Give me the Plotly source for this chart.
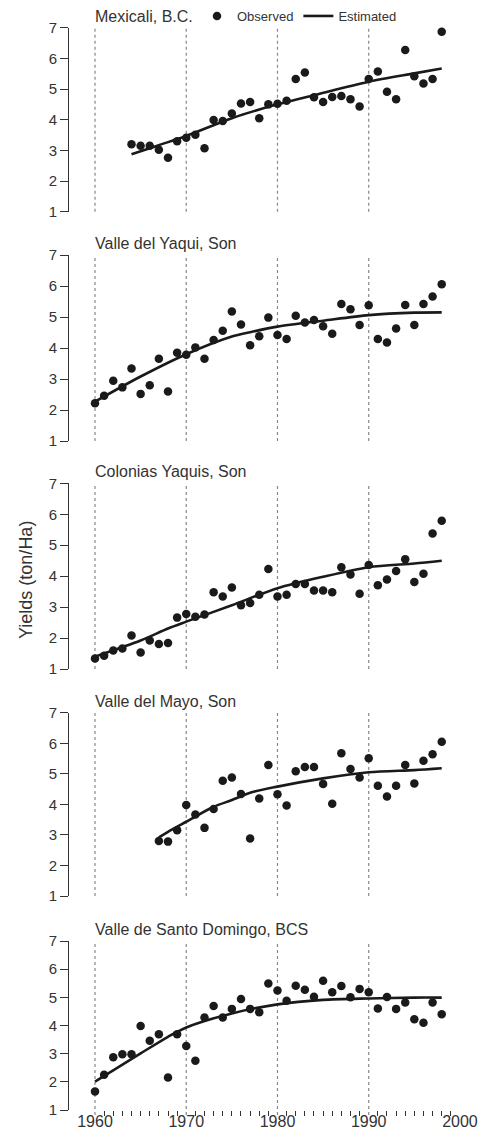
import plotly.graph_objects as go
from plotly.subplots import make_subplots

# ---------------- data ----------------
DECADES = [1960, 1970, 1980, 1990]
X_TICKS = [1960, 1970, 1980, 1990, 2000]
X_TICK_LABELS = ["1960", "1970", "1980", "1990", "2000"]
MINOR_YEARS = [y for y in range(1961, 2000) if y not in (1970, 1980, 1990)]
Y_TICKS = [1, 2, 3, 4, 5, 6, 7]

REGIONS = ["Mexicali, B.C.", "Valle del Yaqui, Son", "Colonias Yaquis, Son",
           "Valle del Mayo, Son", "Valle de Santo Domingo, BCS"]

mexicali_years = list(range(1964, 1999))
mexicali_obs = [3.20, 3.15, 3.15, 3.02, 2.76, 3.30, 3.41, 3.51, 3.07, 3.99,
                3.96, 4.20, 4.53, 4.58, 4.05, 4.50, 4.52, 4.62, 5.33, 5.54,
                4.73, 4.58, 4.74, 4.77, 4.67, 4.43, 5.33, 5.57, 4.91, 4.67,
                6.27, 5.42, 5.18, 5.33, 6.87]
mexicali_est_years = [1964, 1967, 1970, 1975, 1980, 1984, 1990, 1995, 1998]
mexicali_est = [2.87, 3.17, 3.47, 4.05, 4.50, 4.80, 5.24, 5.51, 5.67]

yaqui_years = list(range(1960, 1999))
yaqui_obs = [2.22, 2.46, 2.94, 2.73, 3.34, 2.52, 2.80, 3.65, 2.60, 3.85,
             3.78, 4.02, 3.65, 4.26, 4.56, 5.18, 4.76, 4.09, 4.38, 4.98,
             4.42, 4.29, 5.04, 4.82, 4.90, 4.70, 4.46, 5.42, 5.25, 4.74,
             5.38, 4.29, 4.18, 4.63, 5.39, 4.74, 5.42, 5.66, 6.06]
yaqui_est_years = [1960, 1965, 1970, 1975, 1977, 1980, 1985, 1990, 1995, 1998]
yaqui_est = [2.27, 3.08, 3.80, 4.37, 4.51, 4.69, 4.88, 5.06, 5.14, 5.15]

colonias_years = list(range(1960, 1999))
colonias_obs = [1.34, 1.43, 1.60, 1.66, 2.08, 1.53, 1.92, 1.81, 1.84, 2.66,
                2.78, 2.69, 2.76, 3.48, 3.34, 3.63, 3.06, 3.13, 3.40, 4.23,
                3.34, 3.40, 3.75, 3.75, 3.54, 3.54, 3.48, 4.29, 4.05, 3.43,
                4.36, 3.71, 3.89, 4.17, 4.55, 3.81, 4.08, 5.38, 5.79]
colonias_est_years = [1960, 1965, 1968, 1970, 1975, 1980, 1985, 1990, 1995, 1998]
colonias_est = [1.40, 1.92, 2.31, 2.53, 3.06, 3.61, 3.98, 4.29, 4.41, 4.50]

mayo_years = list(range(1967, 1999))
mayo_obs = [2.80, 2.78, 3.15, 3.98, 3.67, 3.23, 3.85, 4.77, 4.88, 4.34,
            2.88, 4.19, 5.29, 4.33, 3.96, 5.08, 5.22, 5.22, 4.67, 4.02,
            5.67, 5.16, 4.88, 5.51, 4.61, 4.26, 4.61, 5.29, 4.68, 5.43,
            5.64, 6.05]
mayo_est_years = [1967, 1968, 1970, 1973, 1975, 1977, 1980, 1985, 1990, 1995, 1998]
mayo_est = [2.92, 3.10, 3.43, 3.92, 4.14, 4.38, 4.58, 4.85, 5.05, 5.12, 5.18]

santo_years = list(range(1960, 1999))
santo_obs = [1.66, 2.25, 2.87, 2.98, 2.98, 3.98, 3.46, 3.69, 2.15, 3.69,
             3.27, 2.75, 4.28, 4.69, 4.28, 4.59, 4.94, 4.59, 4.47, 5.49,
             5.24, 4.88, 5.41, 5.27, 5.02, 5.59, 5.18, 5.40, 5.00, 5.30,
             5.18, 4.60, 5.01, 4.59, 4.82, 4.22, 4.10, 4.82, 4.40]
santo_est_years = [1960, 1965, 1968, 1970, 1975, 1980, 1985, 1990, 1995, 1998]
santo_est = [2.01, 3.01, 3.60, 3.93, 4.43, 4.75, 4.91, 4.96, 4.99, 4.99]

OBS = [(mexicali_years, mexicali_obs), (yaqui_years, yaqui_obs),
       (colonias_years, colonias_obs), (mayo_years, mayo_obs),
       (santo_years, santo_obs)]
EST = [(mexicali_est_years, mexicali_est), (yaqui_est_years, yaqui_est),
       (colonias_est_years, colonias_est), (mayo_est_years, mayo_est),
       (santo_est_years, santo_est)]

# ---------------- layout geometry ----------------
W, H = 482, 1132
PLOT_LEFT, PLOT_RIGHT = 69, 470
# pixel positions (top = value 7, bottom = value 1) of each panel
PANEL_PX = [(27.7, 211.7), (255, 441), (483.3, 669), (712.7, 896), (941, 1110)]
X_RANGE = [1957.15, 2001.1]

INK = "#1a1a1a"
AXIS = "#333333"
TEXT = "#333333"
GRID = "#888888"
FONT = "Liberation Sans, Arial, sans-serif"

fig = make_subplots(rows=5, cols=1)

for i in range(5):
    r = i + 1
    sfx = "" if i == 0 else str(r)
    ox, oy = OBS[i]
    ex, ey = EST[i]
    fig.add_trace(go.Scatter(
        x=ex, y=ey, mode="lines", name="Estimated",
        line=dict(color=INK, width=2.6, shape="spline", smoothing=0.8),
        showlegend=(i == 0), legendrank=2, cliponaxis=False), row=r, col=1)
    fig.add_trace(go.Scatter(
        x=ox, y=oy, mode="markers", name="Observed",
        marker=dict(color=INK, size=8.5),
        showlegend=(i == 0), legendrank=1, cliponaxis=False), row=r, col=1)

    top, bot = PANEL_PX[i]
    dom = [1 - bot / H, 1 - top / H]
    last = (i == 4)
    fig.layout["yaxis" + sfx].update(
        domain=dom, range=[1, 7], tickvals=Y_TICKS, showgrid=False,
        zeroline=False, showline=True, linecolor=AXIS, linewidth=1,
        ticks="outside", ticklen=8, tickcolor=AXIS, tickwidth=1,
        automargin=False,
        tickfont=dict(family=FONT, size=15, color=TEXT))
    fig.layout["xaxis" + sfx].update(
        domain=[0, 1], range=X_RANGE, showgrid=False, zeroline=False,
        showline=False, tickvals=X_TICKS if last else [],
        ticktext=X_TICK_LABELS if last else [], ticks="",
        showticklabels=last, automargin=False,
        tickfont=dict(family=FONT, size=16, color=TEXT))
    if last:
        fig.layout["xaxis" + sfx].update(minor=dict(
            tickvals=MINOR_YEARS, ticks="outside", ticklen=5,
            tickcolor=AXIS, tickwidth=1))

    for d in DECADES:
        fig.add_shape(type="line", xref="x" + sfx, yref="y" + sfx + " domain",
                      x0=d, x1=d, y0=(-0.03 if last else 0), y1=1,
                      line=dict(color=GRID, width=1.2, dash="dot"),
                      layer="below")

    fig.add_annotation(
        text=REGIONS[i], xref="x" + sfx, yref="y" + sfx + " domain",
        x=DECADES[0], y=1, xanchor="left", yanchor="bottom",
        xshift=-2, yshift=1, showarrow=False,
        font=dict(family=FONT, size=16, color=TEXT))

fig.add_annotation(
    text="Yields (ton/Ha)", xref="paper", yref="paper",
    x=-(PLOT_LEFT - 26) / (PLOT_RIGHT - PLOT_LEFT), y=1 - 580 / H,
    xanchor="center", yanchor="middle", textangle=-90, showarrow=False,
    font=dict(family=FONT, size=18, color=TEXT))

fig.update_layout(
    width=W, height=H,
    margin=dict(l=PLOT_LEFT, r=W - PLOT_RIGHT, t=0, b=0, autoexpand=False),
    paper_bgcolor="white", plot_bgcolor="white",
    font=dict(family=FONT, color=TEXT),
    legend=dict(orientation="h", xanchor="right", yanchor="middle",
                x=(402 - PLOT_LEFT) / (PLOT_RIGHT - PLOT_LEFT), y=1 - 16 / H,
                font=dict(family=FONT, size=13, color=TEXT),
                itemwidth=30, tracegroupgap=0,
                bgcolor="rgba(0,0,0,0)"),
)

fig.write_html(
    "out.html",
    config={"displayModeBar": False},
    post_script="document.body.style.margin='0';document.body.style.padding='0';",
)
